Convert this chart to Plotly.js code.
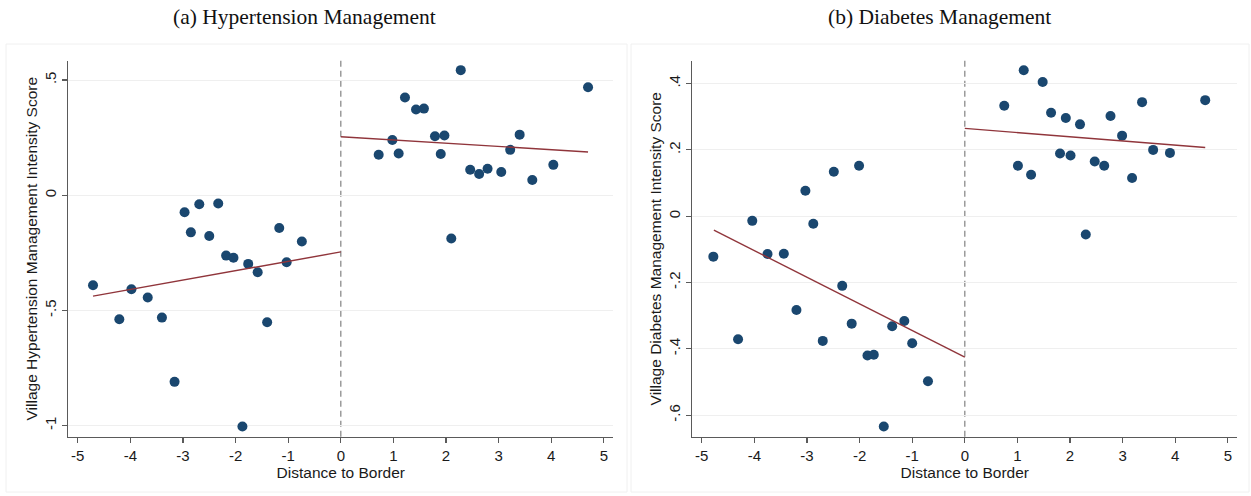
<!DOCTYPE html>
<html>
<head>
<meta charset="utf-8">
<script src="https://cdn.plot.ly/plotly-3.0.1.min.js"></script>
<style>
  html, body { margin: 0; padding: 0; background: #ffffff; }
  #chart { width: 1251px; height: 496px; }
</style>
</head>
<body>
<div id="chart"></div>
<script>
// Panel (a): village hypertension management score by distance to border
const htnLeftX  = [-4.71, -4.21, -3.98, -3.67, -3.40, -3.16, -2.97, -2.85, -2.69, -2.50,
                   -2.33, -2.18, -2.04, -1.87, -1.76, -1.58, -1.40, -1.17, -1.03, -0.74];
const htnLeftY  = [-0.391, -0.538, -0.408, -0.444, -0.531, -0.810, -0.074, -0.161, -0.039, -0.177,
                   -0.036, -0.262, -0.271, -1.004, -0.298, -0.334, -0.551, -0.142, -0.291, -0.201];
const htnRightX = [0.72, 0.98, 1.10, 1.22, 1.43, 1.58, 1.79, 1.90, 1.97, 2.10,
                   2.28, 2.46, 2.63, 2.79, 3.05, 3.22, 3.40, 3.64, 4.04, 4.70];
const htnRightY = [0.176, 0.240, 0.181, 0.424, 0.372, 0.376, 0.256, 0.179, 0.259, -0.188,
                   0.543, 0.111, 0.092, 0.115, 0.101, 0.197, 0.263, 0.066, 0.132, 0.469];
// Linear fits on each side of the border (endpoints)
const htnFitLeftX  = [-4.71, 0];
const htnFitLeftY  = [-0.438, -0.246];
const htnFitRightX = [0, 4.70];
const htnFitRightY = [0.254, 0.188];

// Panel (b): village diabetes management score by distance to border
const dmLeftX  = [-4.78, -4.31, -4.04, -3.75, -3.44, -3.20, -3.03, -2.88, -2.70, -2.49,
                  -2.33, -2.15, -2.01, -1.85, -1.73, -1.54, -1.38, -1.15, -1.00, -0.70];
const dmLeftY  = [-0.122, -0.371, -0.014, -0.114, -0.113, -0.283, 0.077, -0.023, -0.376, 0.134,
                  -0.210, -0.324, 0.152, -0.420, -0.418, -0.634, -0.332, -0.316, -0.383, -0.498];
const dmRightX = [0.75, 1.01, 1.12, 1.26, 1.48, 1.64, 1.81, 1.92, 2.01, 2.19,
                  2.30, 2.47, 2.65, 2.77, 2.99, 3.18, 3.37, 3.58, 3.90, 4.57];
const dmRightY = [0.333, 0.152, 0.440, 0.125, 0.405, 0.312, 0.189, 0.296, 0.183, 0.277,
                  -0.055, 0.165, 0.152, 0.302, 0.243, 0.115, 0.344, 0.200, 0.191, 0.350];
const dmFitLeftX  = [-4.77, 0];
const dmFitLeftY  = [-0.042, -0.425];
const dmFitRightX = [0, 4.57];
const dmFitRightY = [0.265, 0.207];

// Axis ticks
const xTickVals = [-5, -4, -3, -2, -1, 0, 1, 2, 3, 4, 5];
const xTickText = ['-5', '-4', '-3', '-2', '-1', '0', '1', '2', '3', '4', '5'];
const htnTickVals = [-1, -0.5, 0, 0.5];
const htnTickText = ['-1', '-.5', '0', '.5'];
const dmTickVals = [-0.6, -0.4, -0.2, 0, 0.2, 0.4];
const dmTickText = ['-.6', '-.4', '-.2', '0', '.2', '.4'];

const panelTitles = ['(a) Hypertension Management', '(b) Diabetes Management'];
const yTitles = ['Village Hypertension Management Intensity Score',
                 'Village Diabetes Management Intensity Score'];
const xTitle = 'Distance to Border';

const W = 1251, H = 496;
const dotColor = '#1a476f';
const fitColor = '#90353b';
const sans = 'Liberation Sans, Arial, sans-serif';

function px(v) { return v / W; }
function py(v) { return 1 - v / H; }

function dots(x, y, xa, ya) {
  return { x, y, xaxis: xa, yaxis: ya, type: 'scatter', mode: 'markers',
           marker: { color: dotColor, size: 10 }, hoverinfo: 'x+y', showlegend: false };
}
function fit(x, y, xa, ya) {
  return { x, y, xaxis: xa, yaxis: ya, type: 'scatter', mode: 'lines',
           line: { color: fitColor, width: 1.4 }, hoverinfo: 'skip', showlegend: false };
}

const traces = [
  dots(htnLeftX, htnLeftY, 'x', 'y'),
  dots(htnRightX, htnRightY, 'x', 'y'),
  fit(htnFitLeftX, htnFitLeftY, 'x', 'y'),
  fit(htnFitRightX, htnFitRightY, 'x', 'y'),
  dots(dmLeftX, dmLeftY, 'x2', 'y2'),
  dots(dmRightX, dmRightY, 'x2', 'y2'),
  fit(dmFitLeftX, dmFitLeftY, 'x2', 'y2'),
  fit(dmFitRightX, dmFitRightY, 'x2', 'y2')
];

function xAxis(domain, anchor) {
  return {
    domain, anchor, range: [-5.18, 5.18],
    tickmode: 'array', tickvals: xTickVals, ticktext: xTickText,
    ticks: 'outside', ticklen: 5, tickwidth: 1.2, tickcolor: '#5a5a5a',
    showline: true, linecolor: '#5a5a5a', linewidth: 1.6,
    showgrid: false, zeroline: false,
    tickfont: { family: sans, size: 15, color: '#1a1a1a' },
    title: { text: xTitle, font: { family: sans, size: 15.5, color: '#1a1a1a' }, standoff: 2 }
  };
}
function yAxis(domain, anchor, range, vals, text, title) {
  return {
    domain, anchor, range,
    tickmode: 'array', tickvals: vals, ticktext: text, tickangle: -90,
    ticks: 'outside', ticklen: 5, tickwidth: 1.2, tickcolor: '#5a5a5a',
    showline: true, linecolor: '#5a5a5a', linewidth: 1.6,
    showgrid: true, gridcolor: '#efefef', gridwidth: 1, zeroline: false,
    tickfont: { family: sans, size: 15, color: '#1a1a1a' },
    title: { text: title, font: { family: sans, size: 15.5, color: '#1a1a1a' }, standoff: 0 }
  };
}

const yDom = [py(436.7), py(60.7)];

const layout = {
  width: W, height: H,
  margin: { l: 0, r: 0, t: 0, b: 0 },
  paper_bgcolor: '#ffffff', plot_bgcolor: '#ffffff',
  showlegend: false,
  xaxis:  xAxis([px(68.3), px(613.3)], 'y'),
  yaxis:  yAxis(yDom, 'x', [-1.048, 0.584], htnTickVals, htnTickText, yTitles[0]),
  xaxis2: xAxis([px(692.3), px(1237.3)], 'y2'),
  yaxis2: yAxis(yDom, 'x2', [-0.665, 0.469], dmTickVals, dmTickText, yTitles[1]),
  shapes: [
    // faint panel frames
    { type: 'rect', xref: 'paper', yref: 'paper', x0: px(6), x1: px(627), y0: py(492), y1: py(44),
      line: { color: '#f0f0f0', width: 1 }, fillcolor: 'rgba(0,0,0,0)', layer: 'below' },
    { type: 'rect', xref: 'paper', yref: 'paper', x0: px(631), x1: px(1249), y0: py(492), y1: py(44),
      line: { color: '#f0f0f0', width: 1 }, fillcolor: 'rgba(0,0,0,0)', layer: 'below' },
    // border cutoff lines
    { type: 'line', xref: 'x', yref: 'y domain', x0: 0, x1: 0, y0: 0, y1: 1,
      line: { color: '#8c8c8c', width: 1.3, dash: '6px,4px' }, layer: 'below' },
    { type: 'line', xref: 'x2', yref: 'y2 domain', x0: 0, x1: 0, y0: 0, y1: 1,
      line: { color: '#8c8c8c', width: 1.3, dash: '6px,4px' }, layer: 'below' }
  ],
  annotations: [
    { text: panelTitles[0], xref: 'paper', yref: 'paper', x: px(304), y: py(17),
      xanchor: 'center', yanchor: 'middle', showarrow: false,
      font: { family: 'Liberation Serif, Times New Roman, serif', size: 21.5, color: '#111111' } },
    { text: panelTitles[1], xref: 'paper', yref: 'paper', x: px(940), y: py(17),
      xanchor: 'center', yanchor: 'middle', showarrow: false,
      font: { family: 'Liberation Serif, Times New Roman, serif', size: 21.5, color: '#111111' } }
  ]
};

Plotly.newPlot('chart', traces, layout, { displayModeBar: false, staticPlot: true });
</script>
</body>
</html>
